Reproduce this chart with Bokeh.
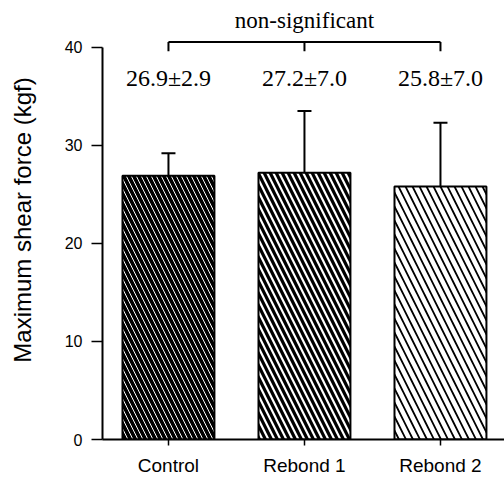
from bokeh.plotting import figure
from bokeh.models import ColumnDataSource, Range1d, FixedTicker, Whisker, TeeHead
from bokeh.core.properties import value
from bokeh.embed import file_html
from bokeh.resources import INLINE

# ---- data ----
categories = ["Control", "Rebond 1", "Rebond 2"]
means = [26.9, 27.2, 25.8]
sds = [2.9, 7.0, 7.0]
err_top = [29.2, 33.5, 32.3]   # tops of drawn error bars
y_ticks = [0, 10, 20, 30, 40]
bracket_label = "non-significant"

# ---- styles (per bar) ----
fills = ["black", "white", "white"]
hatch_colors = ["white", "black", "black"]
hatch_weights = [1.0, 3.2, 1.8]
hatch_scales = [10.0, 12.0, 14.0]

xs = list(range(len(categories)))
labels = [f"{m:.1f}\u00b1{s:.1f}" for m, s in zip(means, sds)]

src = ColumnDataSource(dict(x=xs, top=means, upper=err_top, lower=means, label=labels))

p = figure(width=504, height=478, output_backend="svg", toolbar_location=None,
           x_range=Range1d(-0.485, 2.412 + 8 / 136), y_range=Range1d(0, 44.78),
           min_border_left=102, min_border_right=0, min_border_top=0,
           min_border_bottom=38)
p.outline_line_color = None
p.xgrid.visible = False
p.ygrid.visible = False
p.background_fill_color = "white"
p.border_fill_color = "white"

for i in xs:
    p.vbar(x=[xs[i]], top=[means[i]], bottom=0, width=0.676,
           fill_color=fills[i], line_color="black", line_width=2,
           hatch_pattern="left_diagonal_line", hatch_color=hatch_colors[i],
           hatch_weight=hatch_weights[i], hatch_scale=hatch_scales[i])

w = Whisker(base="x", upper="upper", lower="lower", source=src,
            upper_head=TeeHead(size=14, line_width=2, line_color="black"),
            lower_head=None, line_width=2, line_color="black")
p.add_layout(w)

# value labels
label_y = 36.9
p.text(x="x", y=label_y, text="label", source=src, text_align="center",
       text_baseline="middle", text_font=value("Liberation Serif"),
       text_font_size="24px", text_color="black")

# bracket
by = 40.55
bt = 39.6
p.segment(x0=[xs[0]], y0=[by], x1=[xs[-1]], y1=[by], line_color="black", line_width=2)
p.segment(x0=xs, y0=[by] * len(xs), x1=xs, y1=[bt] * len(xs), line_color="black", line_width=2)
p.text(x=[xs[1]], y=[42.7], text=[bracket_label], text_align="center",
       text_baseline="middle", text_font=value("Liberation Serif"),
       text_font_size="23px", text_color="black")

# axes
ya = p.yaxis[0]
ya.bounds = (0, 40)
ya.ticker = FixedTicker(ticks=y_ticks)
ya.minor_tick_line_color = None
ya.major_tick_in = 0
ya.major_tick_out = 11
ya.major_tick_line_width = 1.5
ya.major_tick_line_color = "black"
ya.axis_line_width = 2
ya.axis_line_color = "black"
ya.major_label_text_font = "Liberation Sans"
ya.major_label_text_font_size = "16px"
ya.major_label_text_color = "black"
ya.major_label_standoff = 9
ya.axis_label = "Maximum shear force (kgf)"
ya.axis_label_text_font = "Liberation Sans"
ya.axis_label_text_font_style = "normal"
ya.axis_label_text_font_size = "24px"
ya.axis_label_text_color = "black"
ya.axis_label_standoff = 26

xa = p.xaxis[0]
xa.ticker = FixedTicker(ticks=xs)
xa.major_label_overrides = {i: c for i, c in zip(xs, categories)}
xa.minor_tick_line_color = None
xa.major_tick_in = 0
xa.major_tick_out = 6
xa.major_tick_line_width = 1.5
xa.major_tick_line_color = "black"
xa.axis_line_width = 2
xa.axis_line_color = "black"
xa.major_label_text_font = "Liberation Sans"
xa.major_label_text_font_size = "19px"
xa.major_label_text_color = "black"
xa.major_label_standoff = 9

open("out.html", "w").write(file_html(p, INLINE))
